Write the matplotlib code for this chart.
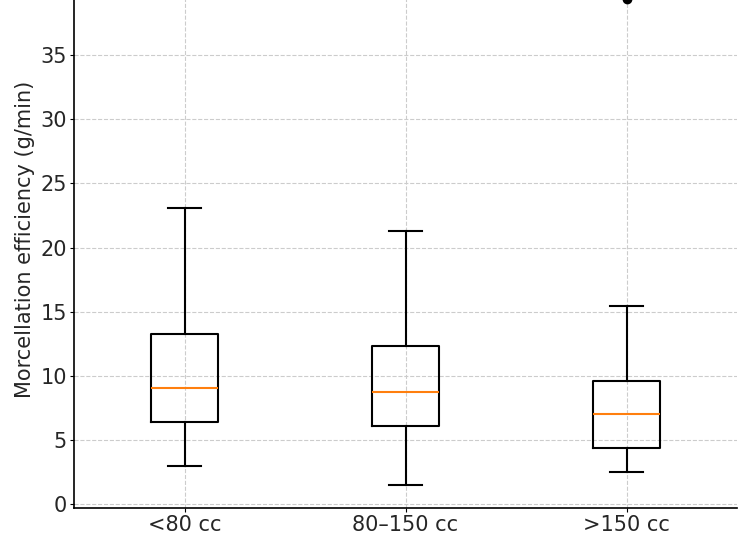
import matplotlib
matplotlib.use("Agg")
import matplotlib.pyplot as plt

categories = ["<80 cc", "80–150 cc", ">150 cc"]
whislo = [2.97, 1.48, 2.5]
q1 = [6.4, 6.02, 4.3]
med = [9.06, 8.75, 7.03]
q3 = [13.28, 12.27, 9.6]
whishi = [23.05, 21.25, 15.4]
fliers = [[], [], [39.4]]

stats = []
for i, c in enumerate(categories):
    stats.append(dict(label=c, whislo=whislo[i], q1=q1[i], med=med[i],
                      q3=q3[i], whishi=whishi[i], fliers=fliers[i]))

txt = "#262626"
fig = plt.figure(figsize=(7.5, 5.48), dpi=100)
ax = fig.add_axes([74/750, 40/548, 663/750, 537/548])
ax.bxp(stats, positions=[1, 2, 3], widths=0.3,
       medianprops=dict(color="#ff7f0e", linewidth=1.5),
       boxprops=dict(color="black", linewidth=1.5),
       whiskerprops=dict(color="black", linewidth=1.5),
       capprops=dict(color="black", linewidth=1.5),
       flierprops=dict(marker="o", markerfacecolor="black", markeredgecolor="black", markersize=6))
ax.set_xlim(0.5, 3.5)
ax.set_ylim(-0.35, 41.6)
ax.set_yticks([0, 5, 10, 15, 20, 25, 30, 35, 40])
ax.grid(True, linestyle="--", color="#cccccc", linewidth=0.8)
ax.set_axisbelow(True)
for s in ["top", "right"]:
    ax.spines[s].set_visible(False)
ax.spines["left"].set_linewidth(1.2)
ax.spines["bottom"].set_linewidth(1.2)
ax.tick_params(labelsize=15, colors=txt, length=3, pad=2)
ax.tick_params(axis="both", color="black")
ax.set_ylabel("Morcellation efficiency (g/min)", fontsize=15, color=txt, labelpad=4)
fig.savefig("out.png", dpi=100)
